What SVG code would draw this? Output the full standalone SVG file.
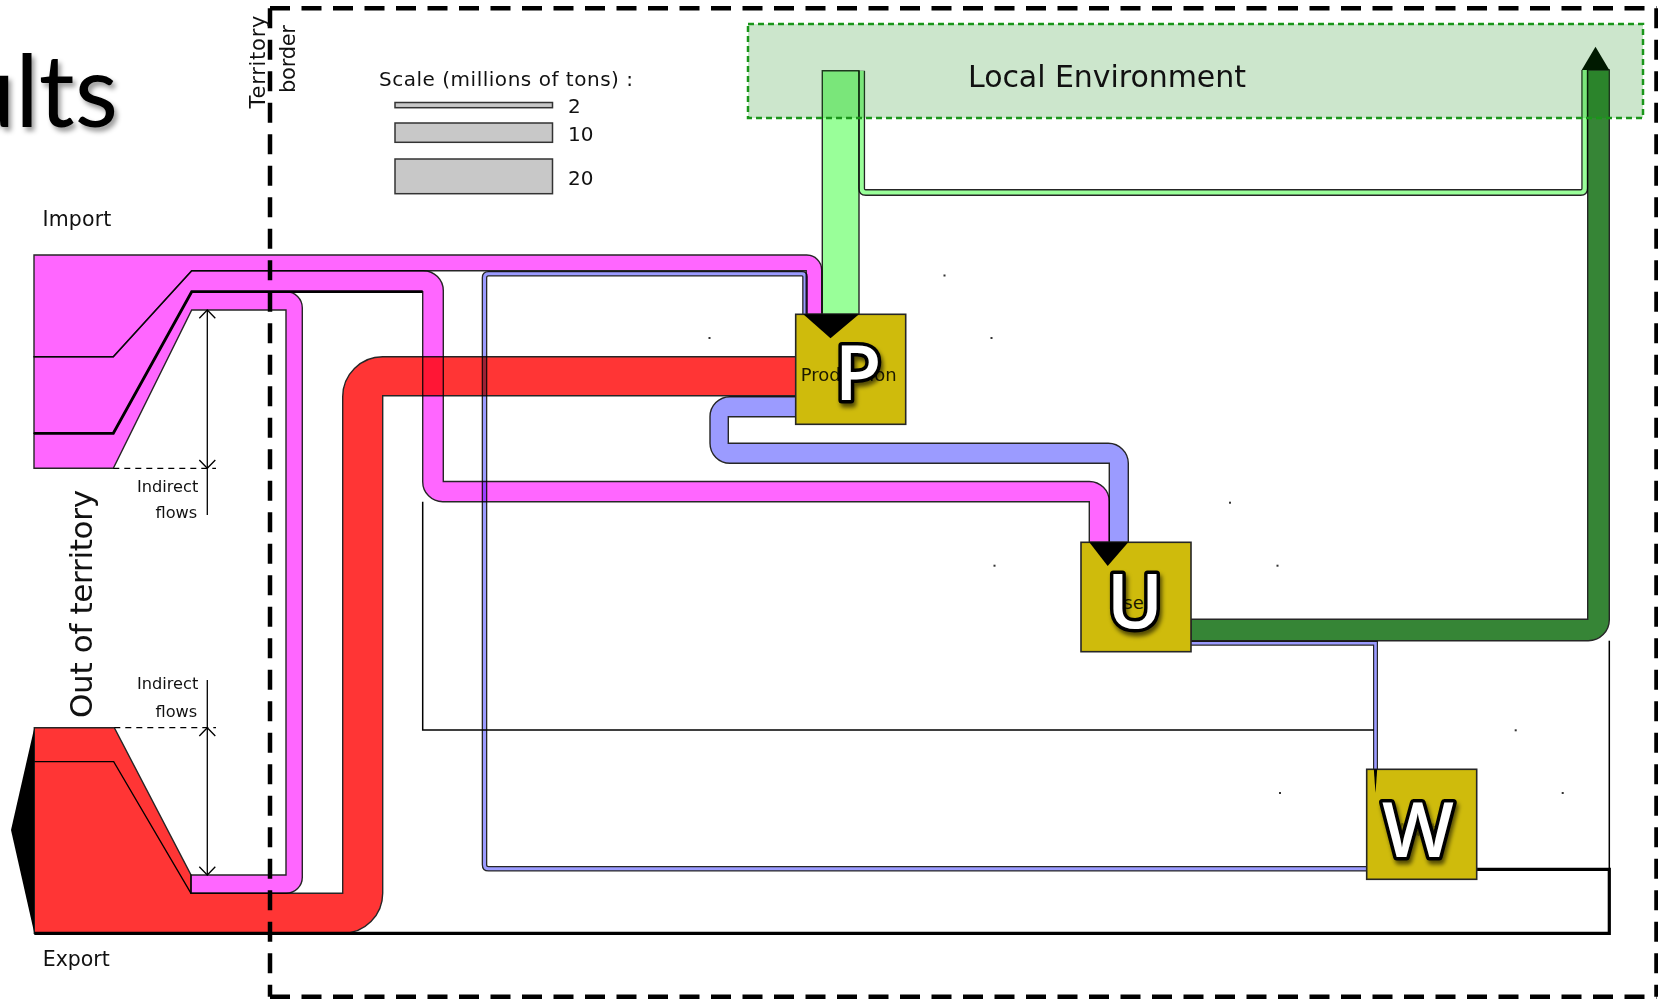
<svg xmlns="http://www.w3.org/2000/svg" width="1658" height="1001" viewBox="0 0 1658 1001">
<defs>
<style>
.lbl{font-family:"DejaVu Sans",sans-serif;fill:#111}
.flow{stroke:#262626;stroke-width:1.4;mix-blend-mode:multiply}
.mag{fill:#ff66ff}
.red{fill:#ff3535}
.blue{fill:#9b9bff}
.lgreen{fill:#99ff99}
.dgreen{fill:#368536}
.thin{mix-blend-mode:multiply;fill:none}
.thin .o{stroke:#262626;fill:none}
.node rect{fill:#cfbb0c;stroke:#262626;stroke-width:1.6}
.big{font-family:"Open Sans",sans-serif;font-weight:600;font-size:76px;fill:#fff;stroke:#000;stroke-width:7;paint-order:stroke;stroke-linejoin:round;text-anchor:middle;filter:url(#shadow)}
.small{font-family:"DejaVu Sans",sans-serif;font-size:18px;fill:#1c1a00;text-anchor:middle}
.border{stroke:#000;stroke-width:4.5;stroke-dasharray:20 11.5;fill:none}
.dim{stroke:#000;stroke-width:1.3;fill:none}
.dash{stroke:#000;stroke-width:1.3;stroke-dasharray:6 5;fill:none}
.line{stroke:#000;fill:none}
.bar{fill:#c8c8c8;stroke:#333;stroke-width:1.5}
.dot{fill:#333}
</style>
<filter id="shadow" x="-30%" y="-30%" width="160%" height="160%">
<feDropShadow dx="2" dy="4" stdDeviation="2" flood-color="#000" flood-opacity="0.6"/>
</filter>
<filter id="tshadow" x="-30%" y="-30%" width="160%" height="160%">
<feDropShadow dx="3" dy="4" stdDeviation="2.5" flood-color="#000" flood-opacity="0.4"/>
</filter>
</defs>

<rect x="0" y="0" width="1658" height="1001" fill="#fff"/>

<!-- title fragment -->
<text x="118" y="127" font-family="Lato, sans-serif" font-size="100" text-anchor="end" fill="#000" filter="url(#tshadow)">ults</text>

<!-- territory border -->
<g id="territory">
<line class="border" x1="270" y1="8.3" x2="1656.5" y2="8.3"/>
<line class="border" x1="270" y1="8.3" x2="270" y2="996.7"/>
<line class="border" x1="1656.5" y1="8.3" x2="1656.5" y2="996.7"/>
<line class="border" x1="270" y1="996.7" x2="1656.5" y2="996.7"/>
<text class="lbl" font-size="21" text-anchor="middle" transform="translate(265,62) rotate(-90)" textLength="93">Territory</text>
<text class="lbl" font-size="21" text-anchor="middle" transform="translate(295,59) rotate(-90)" textLength="68">border</text>
</g>

<!-- scale legend -->
<g id="legend">
<text class="lbl" x="379" y="85.5" font-size="20" textLength="254">Scale (millions of tons) :</text>
<rect class="bar" x="395" y="102.5" width="157.5" height="5.2"/>
<rect class="bar" x="395" y="123" width="157.5" height="19.3"/>
<rect class="bar" x="395" y="159" width="157.5" height="34.7"/>
<text class="lbl" x="568" y="113.3" font-size="20">2</text>
<text class="lbl" x="568" y="141" font-size="20">10</text>
<text class="lbl" x="568" y="185" font-size="20">20</text>
</g>

<text class="lbl" x="42.4" y="226" font-size="20.5" textLength="69">Import</text>
<text class="lbl" x="42.7" y="966" font-size="20.5" textLength="67">Export</text>
<text class="lbl" font-size="31" transform="translate(91.5,718) rotate(-90)" textLength="228">Out of territory</text>

<!-- flows -->
<g id="connectors">
<!-- Import -> Production -->
<path class="flow mag" d="M34 255 H806.7 A15 15 0 0 1 821.7 270 V314.3 H806.2 V270.7 H191.7 L113.3 356.7 H34 Z"/>
<!-- Import -> Use -->
<path class="flow mag" d="M34 356.7 H113.3 L191.7 270.7 H423.3 A20 20 0 0 1 443.3 290.7 V481.5 H1089.3 A20 20 0 0 1 1109.3 501.5 V542.3 H1089.3 V501.7 H442.7 A20 20 0 0 1 422.7 481.7 V291.7 H191.7 L113.3 433.3 H34 Z"/>
<!-- Import -> Export (transit) -->
<path class="flow mag" d="M34 433.3 H113.3 L191.7 291.7 H286.3 A16 16 0 0 1 302.3 307.7 V877.3 A16 16 0 0 1 286.3 893.3 H191 V875 H286 V310 H191.7 L113.3 468.3 H34 Z"/>
<!-- Production -> Export -->
<path class="flow red" d="M795.7 356.7 H382.7 A40 40 0 0 0 342.7 396.7 V893.3 H191 V875 L114.3 727.7 H34.3 V933.3 H342.7 A40 40 0 0 0 382.7 893.3 V395.7 H795.7 Z"/>
<path class="line" stroke-width="1.3" d="M34.3 761.7 H113.7 L191 893.3"/>
<!-- Production -> Use -->
<path class="flow blue" d="M795.7 396.7 H730 A20 20 0 0 0 710 416.7 V443.3 A20 20 0 0 0 730 463.3 H1109.3 V542.3 H1128.3 V463.3 A20 20 0 0 0 1108.3 443.3 H728.3 V416.7 H795.7 Z"/>
<!-- Local Environment -> Production -->
<path class="flow lgreen" d="M822.3 70.7 H859 V314.3 H822.3 Z"/>
<!-- Use -> Local Environment -->
<path class="flow dgreen" d="M1191 619.3 H1587.7 V70 H1609.3 V619.7 A21 21 0 0 1 1588.3 640.7 H1191 Z"/>
<!-- Local Environment loop -->
<g class="thin">
<path class="o" stroke-width="6.8" d="M861.7 70.7 V188.5 Q861.7 192.5 865.7 192.5 H1580.7 Q1584.7 192.5 1584.7 188.5 V70"/>
<path stroke="#99ff99" stroke-width="4.2" d="M861.7 70.7 V188.5 Q861.7 192.5 865.7 192.5 H1580.7 Q1584.7 192.5 1584.7 188.5 V70"/>
</g>
<!-- Waste -> Production -->
<g class="thin">
<path class="o" stroke-width="5.6" d="M1367 868.7 H488.5 Q484.5 868.7 484.5 864.7 V277.8 Q484.5 273.8 488.5 273.8 H802 Q805 273.8 805 276.8 V314.3"/>
<path stroke="#9b9bff" stroke-width="3" d="M1367 868.7 H488.5 Q484.5 868.7 484.5 864.7 V277.8 Q484.5 273.8 488.5 273.8 H802 Q805 273.8 805 276.8 V314.3"/>
</g>
<!-- Use -> Waste -->
<g class="thin">
<path class="o" stroke-width="5" d="M1191 643.3 H1375.5 V769.3"/>
<path stroke="#9b9bff" stroke-width="2.6" d="M1191 643.3 H1375.5 V769.3"/>
</g>
<!-- zero-width flows -->
<path class="line" stroke-width="2.8" d="M34 433.3 H113.3 L191.7 291.7 H422.7"/>
<path class="line" stroke-width="1.5" d="M422.7 501.7 V730 H1374"/>
<path class="line" stroke-width="3.2" d="M1476.7 869.3 H1609.3 V933.3 H34.3"/>
<path class="line" stroke-width="1.5" d="M1609.3 640.7 V869.3"/>
<!-- export arrowhead -->
<polygon points="34.3,727.7 11,830 34.3,933.3" fill="#000"/>
</g>

<!-- indirect flow dimensions -->
<g id="dimensions">
<line class="dash" x1="113.3" y1="468.3" x2="216" y2="468.3"/>
<line class="dim" x1="207.3" y1="310" x2="207.3" y2="515"/>
<polyline class="dim" points="199.3,318.3 207.3,310 215.3,318.3"/>
<polyline class="dim" points="199.3,460 207.3,468.3 215.3,460"/>
<text class="lbl" x="198.3" y="491.7" font-size="16.2" text-anchor="end">Indirect</text>
<text class="lbl" x="197.3" y="518" font-size="16.2" text-anchor="end">flows</text>
<line class="dash" x1="114.3" y1="727.7" x2="216" y2="727.7"/>
<line class="dim" x1="207.3" y1="680" x2="207.3" y2="875"/>
<polyline class="dim" points="199.3,736 207.3,727.7 215.3,736"/>
<polyline class="dim" points="199.3,866.7 207.3,875 215.3,866.7"/>
<text class="lbl" x="198.3" y="689" font-size="16.2" text-anchor="end">Indirect</text>
<text class="lbl" x="197.3" y="716.7" font-size="16.2" text-anchor="end">flows</text>
</g>

<!-- label anchors -->
<g id="anchors">
<rect class="dot" x="943.5" y="274.5" width="2" height="2"/>
<rect class="dot" x="708.5" y="337" width="2" height="2"/>
<rect class="dot" x="990.5" y="337" width="2" height="2"/>
<rect class="dot" x="1229" y="501.7" width="2" height="2"/>
<rect class="dot" x="993.5" y="564.7" width="2" height="2"/>
<rect class="dot" x="1276.5" y="564.7" width="2" height="2"/>
<rect class="dot" x="1514.7" y="729.3" width="2" height="2"/>
<rect class="dot" x="1279" y="792" width="2" height="2"/>
<rect class="dot" x="1561.7" y="792" width="2" height="2"/>
</g>

<!-- nodes -->
<g id="node-production" class="node">
<rect x="795.7" y="314.3" width="110" height="110"/>
<polygon points="803.3,314.3 859,314.3 830.5,338.3" fill="#000"/>
<text class="small" x="848.7" y="380.7" textLength="96">Production</text>
<text class="big" x="858" y="400">P</text>
</g>
<g id="node-use" class="node">
<rect x="1081" y="542.3" width="110" height="109.4"/>
<polygon points="1089.3,542.3 1128.3,542.3 1107.7,566" fill="#000"/>
<text class="small" x="1127" y="608.5">Use</text>
<text class="big" x="1135" y="627.5">U</text>
</g>
<g id="node-waste" class="node">
<rect x="1366.7" y="769.3" width="110" height="110"/>
<polygon points="1373.8,769.3 1377.2,769.3 1375.5,793.3" fill="#000"/>
<text class="small" x="1421" y="835.7" opacity="0.35">Waste</text>
<text class="big" x="1418" y="856.7">W</text>
</g>

<!-- local environment -->
<g id="node-environment">
<polygon points="1581.7,70 1609.3,70 1595.5,46.7" fill="#000"/>
<rect x="748" y="24" width="895" height="94" fill="#008000" fill-opacity="0.2" stroke="#1a961a" stroke-width="2.5" stroke-dasharray="6 4"/>
<text class="lbl" x="968" y="86.5" font-size="30" textLength="278">Local Environment</text>
</g>
</svg>
